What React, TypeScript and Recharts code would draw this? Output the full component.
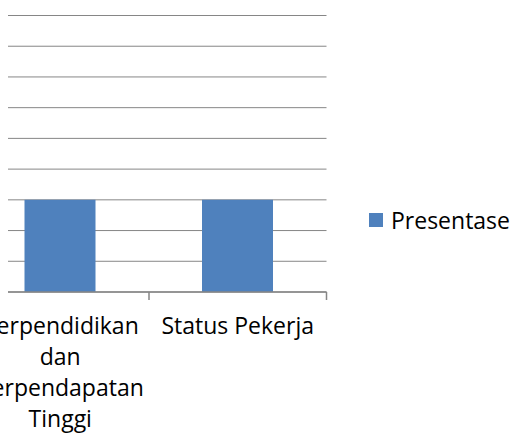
import React from 'react';
import { BarChart, Bar, XAxis, YAxis, CartesianGrid, Legend } from 'recharts';

const categories = ['Berpendidikan dan Berpendapatan Tinggi', 'Status Pekerja'];
const presentase = [30, 30];
const yTicks = [0, 10, 20, 30, 40, 50, 60, 70, 80, 90];
const seriesName = 'Presentase';

const data = categories.map((c, i) => ({ category: c, presentase: presentase[i] }));

const FONT = '"Open Sans", sans-serif';
const FONT_SIZE = 23;
const GRID = '#868686';
const BAR = '#4F81BD';

let measureCtx: CanvasRenderingContext2D | null = null;
function measure(s: string): number {
  if (typeof document === 'undefined') return s.length * FONT_SIZE * 0.55;
  if (!measureCtx) {
    const c = document.createElement('canvas');
    measureCtx = c.getContext('2d');
  }
  if (!measureCtx) return s.length * FONT_SIZE * 0.55;
  measureCtx.font = `${FONT_SIZE}px ${FONT}`;
  return measureCtx.measureText(s).width;
}

function wrap(text: string, maxWidth: number): string[] {
  const words = String(text).split(' ');
  const lines: string[] = [];
  let cur = '';
  words.forEach((w) => {
    const test = cur ? cur + ' ' + w : w;
    if (cur && measure(test) > maxWidth) {
      lines.push(cur);
      cur = w;
    } else {
      cur = test;
    }
  });
  if (cur) lines.push(cur);
  return lines;
}

function CategoryTick(props: any) {
  const { x, y, payload } = props;
  const half = payload && payload.offset ? payload.offset : 0;
  const lines = wrap(payload.value, half * 2 - 6);
  return (
    <g>
      <line x1={x + half} x2={x + half} y1={y} y2={y + 8} stroke={GRID} strokeWidth={1.5} />
      <text x={x} y={y + 42} textAnchor="middle" fontSize={FONT_SIZE} fontFamily={FONT} fill="#000">
        {lines.map((l, i) => (
          <tspan key={i} x={x} dy={i === 0 ? 0 : 31}>
            {l}
          </tspan>
        ))}
      </text>
    </g>
  );
}

function LegendContent(props: any) {
  const items = props.payload || [];
  return (
    <div>
      {items.map((p: any, i: number) => (
        <div key={i} style={{ display: 'flex', alignItems: 'center', fontFamily: FONT, fontSize: FONT_SIZE, color: '#000' }}>
          <span style={{ display: 'inline-block', width: 14, height: 14, background: p.color, marginRight: 8 }} />
          <span>{p.value}</span>
        </div>
      ))}
    </div>
  );
}

export default function App() {
  return (
    <div style={{ position: 'absolute', left: 0, top: 0, width: 514, height: 440, background: '#fff' }}>
      <BarChart width={514} height={440} data={data} margin={{ top: 15.5, right: 187.5, bottom: 0, left: 8 }}>
        <CartesianGrid vertical={false} stroke={GRID} strokeWidth={1} />
        <XAxis
          dataKey="category"
          height={148}
          padding={{ left: -36.5, right: 0 }}
          tickSize={0}
          tickMargin={0}
          tickLine={false}
          axisLine={{ stroke: GRID, strokeWidth: 1.5 }}
          interval={0}
          tick={<CategoryTick />}
        />
        <YAxis hide domain={[0, 90]} ticks={yTicks} />
        <Legend
          layout="vertical"
          align="center"
          verticalAlign="middle"
          content={<LegendContent />}
          wrapperStyle={{ left: 369, top: 204, width: 145 }}
        />
        <Bar dataKey="presentase" name={seriesName} fill={BAR} barSize={71} isAnimationActive={false} />
      </BarChart>
    </div>
  );
}
